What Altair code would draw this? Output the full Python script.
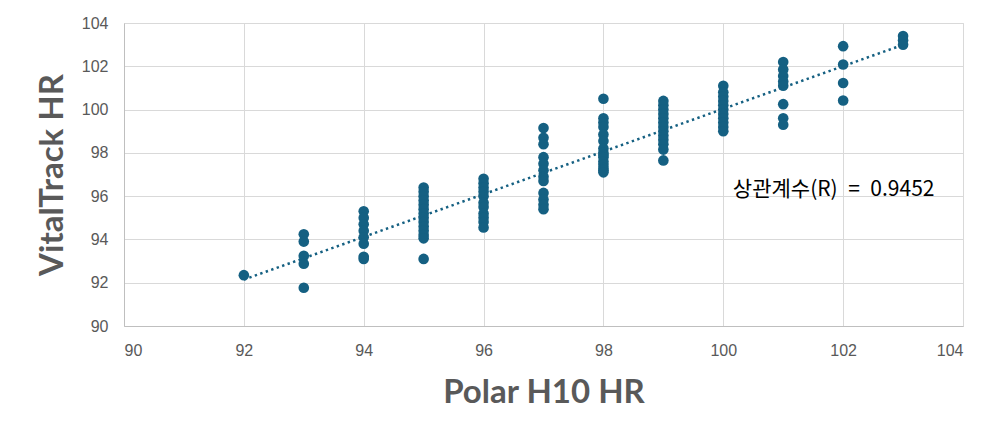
import altair as alt
import pandas as pd

# Measured values per Polar H10 HR column
x92 = [92.35]
x93 = [94.24, 93.9, 93.24, 92.88, 91.77]
x94 = [95.3, 95.0, 94.7, 94.4, 94.1, 93.8, 93.2, 93.1]
x95 = [96.4, 96.2, 96.0, 95.8, 95.6, 95.4, 95.2, 95.0, 94.8, 94.6, 94.4, 94.2, 94.05, 93.1]
x96 = [96.8, 96.6, 96.4, 96.2, 96.0, 95.7, 95.5, 95.2, 95.0, 94.8, 94.55]
x97 = [99.15, 98.7, 98.4, 97.8, 97.5, 97.2, 96.9, 96.7, 96.15, 95.85, 95.6, 95.4]
x98 = [100.5, 99.6, 99.4, 99.2, 98.85, 98.55, 98.2, 98.0, 97.9, 97.8, 97.6, 97.45, 97.3, 97.2, 97.1]
x99 = [100.4, 100.2, 100.0, 99.8, 99.6, 99.4, 99.2, 99.0, 98.8, 98.6, 98.4, 98.15, 97.65]
x100 = [101.1, 100.8, 100.6, 100.4, 100.2, 100.0, 99.8, 99.6, 99.4, 99.2, 99.0]
x101 = [102.2, 101.85, 101.55, 101.3, 101.1, 100.25, 99.6, 99.3]
x102 = [102.93, 102.08, 101.23, 100.42]
x103 = [103.4, 103.2, 103.0]

columns = {92: x92, 93: x93, 94: x94, 95: x95, 96: x96, 97: x97, 98: x98,
           99: x99, 100: x100, 101: x101, 102: x102, 103: x103}

rows = [{"polar": k, "vital": v} for k, vals in columns.items() for v in vals]
df = pd.DataFrame(rows)

ann_text = ["상관계수(R)\u2002=\u20020.9452"]
ann_x = [100.16]
ann_y = [96.28]
ann = pd.DataFrame({"x": ann_x, "y": ann_y, "t": ann_text})

tick_values = [90, 92, 94, 96, 98, 100, 102, 104]

COLOR = "#156082"
GRAY = "#595959"

xscale = alt.Scale(domain=[90, 104], nice=False, zero=False)
yscale = alt.Scale(domain=[90, 104], nice=False, zero=False)

xaxis = alt.Axis(values=tick_values, format="d", title="Polar H10 HR",
                 grid=True, gridColor="#d9d9d9", domainColor="#bfbfbf",
                 ticks=False, labelPadding=16, labelFontSize=16, labelColor=GRAY,
                 labelFont="Liberation Sans",
                 titleFont="Lato", titleFontSize=33, titleFontWeight="bold",
                 titleColor=GRAY, titleX=419.5, titleY=76, titleAlign="center",
                 titleBaseline="alphabetic")
yaxis = alt.Axis(values=tick_values, format="d", title="VitalTrack HR",
                 grid=True, gridColor="#d9d9d9", domainColor="#bfbfbf",
                 ticks=False, labelPadding=16, labelFontSize=16, labelColor=GRAY,
                 labelFont="Liberation Sans",
                 titleFont="Lato", titleFontSize=33, titleFontWeight="bold",
                 titleColor=GRAY, titleX=-62, titleY=151.5, titleAlign="center",
                 titleAngle=270, titleBaseline="alphabetic")

points = alt.Chart(df).mark_circle(size=113, opacity=1, color=COLOR).encode(
    x=alt.X("polar:Q", scale=xscale, axis=xaxis),
    y=alt.Y("vital:Q", scale=yscale, axis=yaxis),
)

trend = alt.Chart(df).transform_regression(
    "polar", "vital", extent=[92, 103]
).mark_line(color=COLOR, strokeWidth=2.5, strokeDash=[2.4, 3.4]).encode(
    x=alt.X("polar:Q", scale=xscale),
    y=alt.Y("vital:Q", scale=yscale),
)

label = alt.Chart(ann).mark_text(
    align="left", baseline="middle", font="Noto Sans CJK KR", fontSize=21, color="#000000"
).encode(
    x=alt.X("x:Q", scale=xscale),
    y=alt.Y("y:Q", scale=yscale),
    text="t:N",
)

chart = alt.layer(points, trend, label).properties(
    width=839, height=303,
    autosize=alt.AutoSizeParams(type="none"),
    padding={"left": 116, "top": 15, "right": 29, "bottom": 106},
).configure_view(stroke=None).configure(background="white")

chart.save("out.html", embed_options={"renderer": "svg", "actions": False})
